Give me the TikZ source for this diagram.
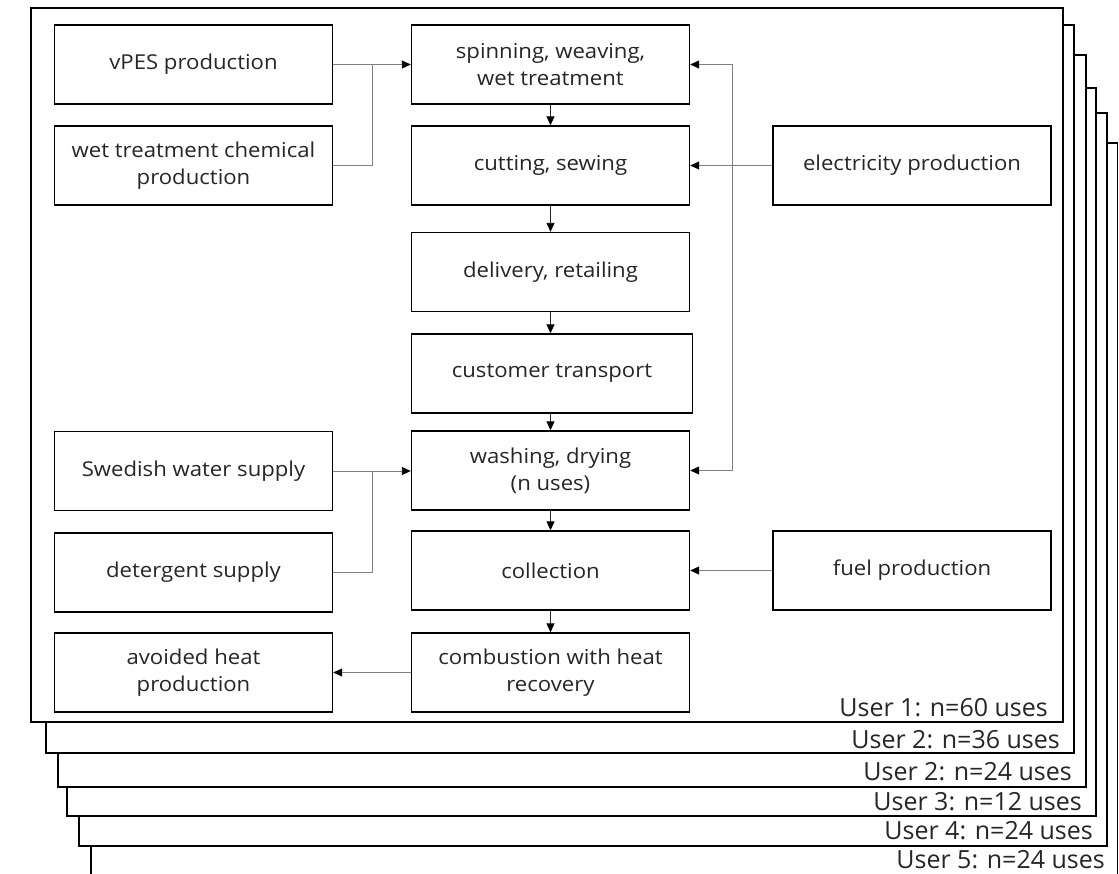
\documentclass[tikz,border=0pt]{standalone}
\usepackage{fontspec}
\setmainfont{Open Sans}
\newfontfamily\boxfont{Open Sans}[FakeStretch=1.08]
\usetikzlibrary{arrows.meta,calc}
\begin{document}
\begin{tikzpicture}[x=1pt,y=-1pt,
  frame/.style={draw=black,line width=1.3pt,fill=white},
  box/.style={draw=black,line width=1.4pt,fill=white,minimum width=278pt,minimum height=79pt,
    align=center,inner sep=0pt,text=black!85,font=\boxfont\fontsize{20.5}{27}\selectfont},
  lab/.style={anchor=east,inner sep=0pt,text=black!85,font=\fontsize{25}{28}\selectfont},
  tip/.style={-{Triangle[length=9pt,width=8pt,color=black]}},
  conn/.style={draw=black!50,line width=0.9pt},
  flow/.style={draw=black!85,line width=0.9pt,tip}]
\useasboundingbox (0,0) rectangle (1119,873);
\clip (0,0) rectangle (1119,873);
% stacked frames (back to front)
\draw[frame] (91,143) rectangle (1117.5,900);
\draw[frame] (79,113) rectangle (1107,846);
\draw[frame] (67,88) rectangle (1096,816);
\draw[frame] (58,55) rectangle (1086,787);
\draw[frame] (46,25) rectangle (1074,753);
\draw[frame] (31,8) rectangle (1063,722);
\node[lab] (u6) at (1105,860) {User 5: n=24 uses};
\node[lab] (u5) at (1093,831) {User 4: n=24 uses};
\node[lab] (u4) at (1082,802) {User 3: n=12 uses};
\node[lab] (u3) at (1072,772) {User 2: n=24 uses};
\node[lab] (u2) at (1060,740) {User 2: n=36 uses};
\node[lab] (u1) at (1048,708) {User 1: n=60 uses};
% left column
\node[box] (vpes) at (193.5,64.5) {vPES production};
\node[box] (wtc) at (193.5,165.5) {wet treatment chemical\\production};
\node[box] (water) at (193.5,471) {Swedish water supply};
\node[box] (det) at (193.5,572.5) {detergent supply};
\node[box] (heat) at (193.5,672.5) {avoided heat\\production};
% middle column
\node[box] (spin) at (550.5,64.5) {spinning, weaving,\\wet treatment};
\node[box] (cut) at (550.5,165.5) {cutting, sewing};
\node[box] (deliv) at (550.5,272) {delivery, retailing};
\node[box,minimum width=281pt] (cust) at (552,373.5) {customer transport};
\node[box] (wash) at (550.5,470.5) {washing, drying\\(n uses)};
\node[box] (coll) at (550.5,570.5) {collection};
\node[box] (comb) at (550.5,672.5) {combustion with heat\\recovery};
% right column
\node[box] (elec) at (912,165.5) {electricity production};
\node[box] (fuel) at (912,570.5) {fuel production};
% main chain
\draw[flow] (spin.south) -- (cut.north);
\draw[flow] (cut.south) -- (deliv.north);
\draw[flow] (deliv.south) -- (deliv.south |- cust.north);
\draw[flow] (deliv.south |- cust.south) -- (wash.north);
\draw[flow] (wash.south) -- (coll.north);
\draw[flow] (coll.south) -- (comb.north);
% inputs to spinning
\coordinate (j1) at ($(vpes.east)!0.5!(spin.west)$);
\draw[conn,tip] (vpes.east) -- (spin.west);
\draw[conn] (wtc.east) -| (j1);
% electricity
\coordinate (ej) at (732,165.5);
\draw[conn,tip] (elec.west) -- (cut.east);
\draw[conn,tip] (ej) |- (spin.east);
\draw[conn,tip] (ej) |- (wash.east);
% water and detergent
\coordinate (j2) at ($(water.east)!0.5!(wash.west)$);
\draw[conn,tip] (water.east) -- (water.east -| wash.west);
\draw[conn] (det.east) -| (j2);
% fuel
\draw[conn,tip] (fuel.west) -- (fuel.west -| coll.east);
% combustion to avoided heat
\draw[conn,tip] (comb.west) -- (heat.east);
\end{tikzpicture}
\end{document}
